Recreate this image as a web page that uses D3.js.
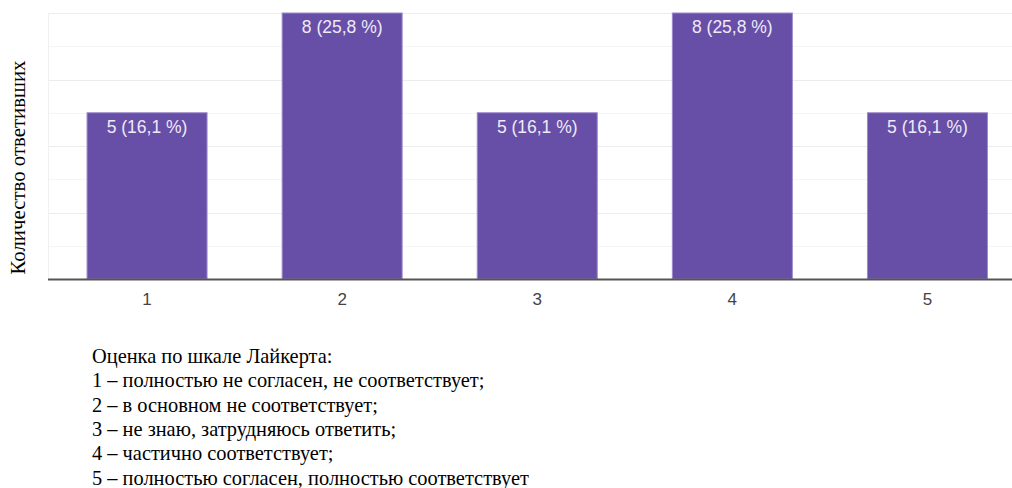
<!DOCTYPE html>
<html>
<head>
<meta charset="utf-8">
<script src="https://cdn.jsdelivr.net/npm/d3@7"></script>
<style>
  html, body { margin: 0; padding: 0; background: #fff; }
  svg { display: block; }
</style>
</head>
<body>
<svg id="chart" width="1012" height="488"></svg>
<script>
// Likert-scale answers: count of respondents per score
const categories = ["1", "2", "3", "4", "5"];
const counts = [5, 8, 5, 8, 5];
const percents = ["16,1", "25,8", "16,1", "25,8", "16,1"];
const yTicks = [0, 1, 2, 3, 4, 5, 6, 7, 8];
const yTitle = "Количество ответивших";
const notes = [
  "Оценка по шкале Лайкерта:",
  "1 – полностью не согласен, не соответствует;",
  "2 – в основном не соответствует;",
  "3 – не знаю, затрудняюсь ответить;",
  "4 – частично соответствует;",
  "5 – полностью согласен, полностью соответствует"
];

const svg = d3.select("#chart");
const plot = { left: 48, right: 1025, top: 13, bottom: 279 };

const x = d3.scaleBand()
  .domain(categories)
  .range([plot.left + 1.5, plot.right])
  .paddingInner(0.385)
  .paddingOuter(0.1925);

const y = d3.scaleLinear()
  .domain([0, 8])
  .range([plot.bottom, plot.top]);

// gridlines: even values slightly stronger than odd ones
svg.append("g")
  .selectAll("line")
  .data(yTicks)
  .join("line")
  .attr("x1", plot.left)
  .attr("x2", 1012)
  .attr("y1", d => Math.round(y(d)) + 0.5)
  .attr("y2", d => Math.round(y(d)) + 0.5)
  .attr("stroke", d => d % 2 === 0 ? "#ececec" : "#f5f5f5")
  .attr("stroke-width", 1);

// left edge of the plot area
svg.append("line")
  .attr("x1", plot.left + 0.5).attr("x2", plot.left + 0.5)
  .attr("y1", plot.top).attr("y2", plot.bottom)
  .attr("stroke", "#f0f0f0");

// bars
svg.append("g")
  .selectAll("rect")
  .data(categories)
  .join("rect")
  .attr("x", d => x(d))
  .attr("width", x.bandwidth())
  .attr("y", (d, i) => y(counts[i]))
  .attr("height", (d, i) => y(0) - y(counts[i]))
  .attr("fill", "#674ea7")
  .attr("stroke", "#9c89cc")
  .attr("stroke-width", 1);

// value labels inside the bar tops
svg.append("g")
  .selectAll("text")
  .data(categories)
  .join("text")
  .attr("x", d => x(d) + x.bandwidth() / 2)
  .attr("y", (d, i) => y(counts[i]) + 20)
  .attr("text-anchor", "middle")
  .attr("font-family", "Arial, 'Liberation Sans', sans-serif")
  .attr("font-size", 17.5)
  .attr("fill", "#eeeaf6")
  .text((d, i) => `${counts[i]} (${percents[i]} %)`);

// baseline
svg.append("line")
  .attr("x1", plot.left).attr("x2", 1012)
  .attr("y1", plot.bottom + 0.5).attr("y2", plot.bottom + 0.5)
  .attr("stroke", "#555")
  .attr("stroke-width", 2);

// category axis labels
const xAxis = svg.append("g")
  .attr("transform", `translate(0,${plot.bottom})`)
  .call(d3.axisBottom(x).tickSize(0));
xAxis.select(".domain").remove();
xAxis.selectAll("text")
  .attr("y", 26)
  .attr("dy", 0)
  .attr("font-family", "Arial, 'Liberation Sans', sans-serif")
  .attr("font-size", 17)
  .attr("fill", "#444");

// y axis title
svg.append("text")
  .attr("transform", `translate(25,167.5) rotate(-90)`)
  .attr("text-anchor", "middle")
  .attr("font-family", "'Liberation Serif', 'Times New Roman', serif")
  .attr("font-size", 20.8)
  .attr("fill", "#000")
  .text(yTitle);

// scale explanation below the chart
svg.append("g")
  .selectAll("text")
  .data(notes)
  .join("text")
  .attr("x", 92)
  .attr("y", (d, i) => 363 + i * 24.3)
  .attr("font-family", "'Liberation Serif', 'Times New Roman', serif")
  .attr("font-size", 20.4)
  .attr("fill", "#000")
  .text(d => d);
</script>
</body>
</html>
